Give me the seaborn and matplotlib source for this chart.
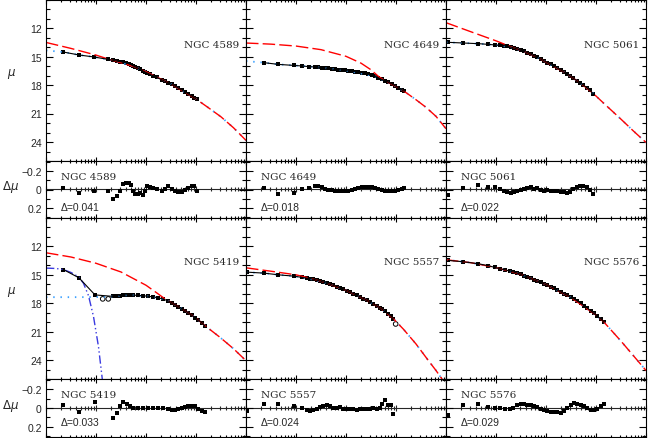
import numpy as np
import pandas as pd
import matplotlib
matplotlib.use("Agg")
import matplotlib.pyplot as plt
import seaborn as sns
from matplotlib.ticker import LogLocator, MultipleLocator, FixedLocator, FixedFormatter, NullFormatter

sns.set_style("ticks")
plt.rcParams.update({
    "font.family": ["Liberation Sans", "DejaVu Sans"],
    "font.size": 7.5,
    "axes.linewidth": 0.8,
    "mathtext.fontset": "dejavusans",
})

# ---- data: log10(R), mu, residual dmu ----
n4589_logr = [-1.653, -1.34, -1.04, -0.753, -0.653, -0.573, -0.52, -0.453, -0.40, -0.347, -0.30,
              -0.253, -0.22, -0.167, -0.12, -0.067, -0.02, 0.013, 0.08, 0.147, 0.213, 0.313, 0.38,
              0.447, 0.513, 0.58, 0.647, 0.713, 0.78, 0.847, 0.913, 0.96, 1.013]
n4589_mu = [14.53, 14.84, 15.05, 15.31, 15.41, 15.50, 15.54, 15.59, 15.65, 15.74, 15.86, 16.00,
            16.08, 16.22, 16.35, 16.49, 16.63, 16.71, 16.88, 17.04, 17.20, 17.44, 17.60, 17.77,
            17.94, 18.12, 18.32, 18.52, 18.72, 18.94, 19.16, 19.33, 19.52]
n4589_dmu = [-0.019, 0.04, 0.018, 0.018, 0.103, 0.066, 0.011, -0.06, -0.071, -0.074, -0.044, 0.018,
             0.048, 0.048, 0.037, 0.055, 0.011, -0.033, -0.022, -0.019, -0.008, 0.018, -0.008,
             -0.041, -0.008, 0.011, 0.022, 0.03, 0.007, -0.019, -0.033, -0.037, 0.018]

n4649_logr = [-1.64, -1.353, -1.04, -0.873, -0.733, -0.62, -0.553, -0.487, -0.42, -0.353, -0.287,
              -0.22, -0.153, -0.087, -0.02, 0.047, 0.113, 0.18, 0.247, 0.313, 0.38, 0.447, 0.513,
              0.58, 0.647, 0.713, 0.78, 0.847, 0.913, 0.98, 1.047, 1.113, 1.167]
n4649_mu = [15.65, 15.83, 15.94, 16.00, 16.07, 16.10, 16.13, 16.16, 16.21, 16.26, 16.31, 16.36,
            16.38, 16.42, 16.46, 16.51, 16.55, 16.60, 16.65, 16.70, 16.78, 16.87, 16.97, 17.09,
            17.25, 17.41, 17.55, 17.71, 17.88, 18.07, 18.28, 18.50, 18.67]
n4649_dmu = [-0.015, 0.048, 0.033, -0.007, -0.019, -0.033, -0.033, -0.022, -0.007, 0.0, 0.007,
             0.011, 0.015, 0.019, 0.019, 0.015, 0.007, -0.004, -0.015, -0.022, -0.026, -0.026,
             -0.022, -0.015, -0.007, 0.004, 0.011, 0.019, 0.015, 0.011, 0.0, -0.007, -0.015]

n5061_logr = [-1.953, -1.653, -1.353, -1.153, -1.02, -0.92, -0.84, -0.773, -0.707, -0.64, -0.573,
              -0.507, -0.44, -0.373, -0.307, -0.24, -0.173, -0.107, -0.04, 0.027, 0.093, 0.16,
              0.227, 0.293, 0.36, 0.427, 0.48, 0.547, 0.613, 0.68, 0.747, 0.813, 0.88, 0.947]
n5061_mu = [13.51, 13.58, 13.65, 13.72, 13.79, 13.83, 13.86, 13.93, 14.00, 14.10, 14.21, 14.32,
            14.46, 14.60, 14.76, 14.93, 15.10, 15.27, 15.45, 15.64, 15.83, 16.02, 16.22, 16.43,
            16.65, 16.87, 17.05, 17.29, 17.53, 17.76, 18.01, 18.27, 18.56, 18.95]
n5061_dmu = [0.059, -0.015, -0.044, -0.026, -0.026, -0.007, 0.011, 0.03, 0.037, 0.022, 0.011,
             0.004, -0.007, -0.015, -0.022, -0.007, -0.019, 0.0, 0.011, 0.007, 0.011, 0.011,
             0.015, 0.022, 0.03, 0.033, 0.022, -0.007, -0.026, -0.033, -0.041, -0.026, 0.0, 0.048]

n5419_logr = [-1.653, -1.34, -1.02, -0.653, -0.573, -0.52, -0.453, -0.387, -0.32, -0.253, -0.153,
              -0.053, 0.047, 0.147, 0.247, 0.347, 0.447, 0.513, 0.58, 0.647, 0.713, 0.78, 0.847,
              0.913, 0.98, 1.047, 1.113, 1.18]
n5419_mu = [14.44, 15.32, 17.12, 17.28, 17.23, 17.19, 17.14, 17.12, 17.12, 17.14, 17.18, 17.21,
            17.27, 17.33, 17.43, 17.56, 17.77, 17.95, 18.14, 18.35, 18.57, 18.78, 19.01, 19.26,
            19.52, 19.77, 20.05, 20.43]
n5419_dmu = [-0.032, 0.039, -0.06, 0.109, 0.053, -0.025, -0.06, -0.042, -0.018, 0.0, 0.004, 0.004,
             0.004, -0.004, -0.004, -0.004, 0.011, 0.021, 0.018, 0.011, -0.004, -0.014, -0.021,
             -0.025, -0.018, 0.011, 0.028, 0.046]
n5419_excl_logr = [-0.866, -0.754]
n5419_excl_mu = [17.54, 17.54]

n5557_logr = [-1.973, -1.64, -1.353, -1.04, -0.873, -0.787, -0.72, -0.653, -0.587, -0.52, -0.453,
              -0.387, -0.32, -0.253, -0.187, -0.12, -0.053, 0.013, 0.08, 0.147, 0.213, 0.28, 0.347,
              0.413, 0.48, 0.547, 0.613, 0.68, 0.713, 0.78, 0.847, 0.9, 0.947]
n5557_mu = [14.72, 14.82, 15.00, 15.14, 15.28, 15.35, 15.40, 15.46, 15.56, 15.65, 15.76, 15.88,
            16.00, 16.12, 16.24, 16.38, 16.52, 16.66, 16.82, 16.98, 17.15, 17.32, 17.50, 17.68,
            17.87, 18.07, 18.28, 18.49, 18.60, 18.86, 19.13, 19.37, 19.68]
n5557_dmu = [0.035, -0.042, -0.042, -0.018, 0.0, 0.018, 0.028, 0.018, 0.007, -0.011, -0.021, -0.028,
             -0.018, 0.0, -0.004, -0.007, 0.007, 0.014, 0.007, 0.014, 0.018, 0.014, 0.014, 0.007,
             0.007, 0.0, 0.014, 0.0, -0.046, -0.081, -0.028, -0.028, 0.06]
n5557_excl_logr = [0.993]
n5557_excl_mu = [20.19]

n5576_logr = [-1.953, -1.653, -1.353, -1.153, -1.02, -0.92, -0.82, -0.72, -0.653, -0.573, -0.507,
              -0.44, -0.373, -0.307, -0.24, -0.173, -0.107, -0.04, 0.027, 0.093, 0.16, 0.227, 0.293,
              0.36, 0.427, 0.493, 0.56, 0.627, 0.693, 0.76, 0.827, 0.893, 0.96, 1.027, 1.093, 1.16]
n5576_mu = [13.48, 13.62, 13.83, 14.04, 14.22, 14.36, 14.47, 14.61, 14.70, 14.83, 14.95, 15.10,
            15.24, 15.38, 15.52, 15.66, 15.80, 15.94, 16.11, 16.27, 16.43, 16.62, 16.81, 16.99,
            17.18, 17.37, 17.55, 17.77, 18.01, 18.24, 18.51, 18.80, 19.08, 19.36, 19.65, 20.01]
n5576_dmu = [0.07, -0.028, -0.039, -0.007, 0.0, 0.004, 0.007, 0.007, 0.0, -0.028, -0.042, -0.039,
             -0.028, -0.035, -0.021, -0.007, 0.007, 0.021, 0.035, 0.042, 0.046, 0.046, 0.049, 0.032,
             0.0, -0.035, -0.056, -0.042, -0.032, -0.018, 0.0, 0.021, 0.025, 0.007, -0.018, -0.042]

# ---- model curves (vertices) ----
n4589_sersic = ([-2, -1.5, -1.0, -0.75, -0.5, -0.25, 0.0, 0.5, 1.0, 1.25, 1.5, 1.75, 2.0],
                [13.52, 14.15, 14.85, 15.28, 15.66, 16.05, 16.6, 17.9, 19.47, 20.4, 21.35, 22.5, 23.83])
n4589_core = ([-2, -1.653, -1.34, -1.04, -0.753, -0.5, -0.25, 0.0, 0.5, 1.0, 1.25, 1.5, 1.75, 2.0],
              [14.36, 14.53, 14.84, 15.05, 15.31, 15.66, 16.05, 16.6, 17.9, 19.47, 20.4, 21.35, 22.5, 23.83])
n4649_sersic = ([-2, -1.5, -1.0, -0.5, 0.0, 0.3, 0.5, 0.65, 0.8, 1.0, 1.2, 1.4, 1.6, 1.8, 2.0],
                [13.58, 13.7, 13.9, 14.28, 14.98, 15.7, 16.4, 17.1, 17.62, 18.15, 18.8, 19.55, 20.35,
                 21.3, 22.6])
n4649_core = ([-2, -1.64, -1.353, -1.04, -0.62, -0.02, 0.58, 0.8, 1.0, 1.2, 1.4, 1.6, 1.8, 2.0],
              [15.48, 15.65, 15.83, 15.94, 16.10, 16.46, 17.09, 17.62, 18.15, 18.8, 19.55, 20.35, 21.3, 22.6])
n5061_sersic = ([-2, -1.5, -1.0, -0.7, -0.44, -0.107, 0.36, 0.68, 0.947, 1.15, 1.5, 1.75, 2.0],
                [11.44, 12.4, 13.35, 13.98, 14.46, 15.27, 16.65, 17.76, 18.9, 19.9, 21.6, 22.85, 24.05])
n5061_core = ([-2, -1.953, -1.353, -1.02, -0.707, -0.44, -0.107, 0.36, 0.68, 0.947, 1.15, 1.5, 1.75, 2.0],
              [13.5, 13.51, 13.65, 13.79, 14.0, 14.46, 15.27, 16.65, 17.76, 18.9, 19.9, 21.6, 22.85, 24.05])
n5419_sersic = ([-2, -1.5, -1.0, -0.5, 0.0, 0.2, 0.4, 0.6, 0.8, 1.0, 1.18, 1.48, 1.75, 2.0],
                [12.67, 13.12, 13.78, 14.7, 16.1, 16.85, 17.62, 18.2, 18.85, 19.55, 20.37, 21.6, 22.8, 24.07])
n5419_core = ([-2, -1.5, -1.0, -0.75, -0.62, -0.32, 0.08, 0.4, 0.6, 0.8, 1.0, 1.18, 1.48, 1.75, 2.0],
              [17.36, 17.36, 17.35, 17.32, 17.26, 17.12, 17.29, 17.62, 18.2, 18.85, 19.55, 20.37, 21.6,
               22.8, 24.07])
n5419_nucleus = ([-2, -1.8, -1.654, -1.5, -1.34, -1.25, -1.15, -1.05, -0.95, -0.87],
                 [14.29, 14.33, 14.44, 14.75, 15.24, 15.9, 17.2, 19.4, 22.6, 26.2])
n5557_sersic = ([-2, -1.5, -1.0, -0.7, -0.4, 0.0, 0.4, 0.7, 0.95, 1.15, 1.4, 1.65, 1.8, 2.0],
                [14.26, 14.62, 15.0, 15.38, 15.85, 16.63, 17.64, 18.55, 19.65, 20.75, 22.3, 24.07, 25.1, 26.6])
n5557_core = ([-2, -1.64, -1.353, -1.04, -0.787, -0.4, 0.0, 0.4, 0.7, 0.95, 1.15, 1.4, 1.65, 1.8, 2.0],
              [14.72, 14.82, 15.0, 15.14, 15.35, 15.85, 16.63, 17.64, 18.55, 19.65, 20.75, 22.3, 24.07,
               25.1, 26.6])
n5576_sersic = ([-2, -1.5, -1.0, -0.5, 0.0, 0.5, 1.0, 1.16, 1.5, 2.0],
                [13.41, 13.72, 14.24, 14.96, 16.03, 17.4, 19.25, 20.0, 22.0, 25.1])
n5576_core = n5576_sersic

names = ["NGC 4589", "NGC 4649", "NGC 5061", "NGC 5419", "NGC 5557", "NGC 5576"]
deltas = ["0.041", "0.018", "0.022", "0.033", "0.024", "0.029"]

panels = [
    (n4589_logr, n4589_mu, n4589_dmu, n4589_sersic, n4589_core, None, None),
    (n4649_logr, n4649_mu, n4649_dmu, n4649_sersic, n4649_core, None, None),
    (n5061_logr, n5061_mu, n5061_dmu, n5061_sersic, n5061_core, None, None),
    (n5419_logr, n5419_mu, n5419_dmu, n5419_sersic, n5419_core, n5419_nucleus,
     (n5419_excl_logr, n5419_excl_mu)),
    (n5557_logr, n5557_mu, n5557_dmu, n5557_sersic, n5557_core, None,
     (n5557_excl_logr, n5557_excl_mu)),
    (n5576_logr, n5576_mu, n5576_dmu, n5576_sersic, n5576_core, None, None),
]

RED = "#ff0000"
LBLUE = "#3aa0ff"
DBLUE = "#3a3ae0"

W, H = 648, 439
fig = plt.figure(figsize=(W / 100, H / 100), dpi=100)
col_left = [46, 246, 446]
rows = [(0.5, 162, 219), (219, 380, 438)]  # main top, main bottom/resid top, resid bottom


def style_x(ax):
    ax.set_xscale("log")
    ax.set_xlim(0.01, 100)
    ax.xaxis.set_major_locator(LogLocator(base=10, numticks=20))
    ax.xaxis.set_minor_locator(LogLocator(base=10, subs=np.arange(2, 10), numticks=20))
    ax.xaxis.set_major_formatter(NullFormatter())
    ax.xaxis.set_minor_formatter(NullFormatter())


def curve(ax, verts, **kw):
    d = pd.DataFrame({"R": 10 ** np.array(verts[0], float), "mu": verts[1]})
    sns.lineplot(data=d, x="R", y="mu", ax=ax, sort=False, estimator=None, **kw)


for i, (logr, mu, dmu, sersic, core, nucleus, excl) in enumerate(panels):
    r, c = divmod(i, 3)
    top, mid, bot = rows[r]
    x0 = col_left[c]
    ax = fig.add_axes([x0 / W, (H - mid) / H, 200 / W, (mid - top) / H])
    rax = fig.add_axes([x0 / W, (H - bot) / H, 200 / W, (bot - mid) / H])

    for a in (ax, rax):
        style_x(a)
        a.tick_params(which="both", direction="in", top=True, right=True, width=0.8, color="k")
        a.tick_params(axis="x", which="major", length=2.6)
        a.tick_params(axis="x", which="minor", length=1.5)
        a.tick_params(axis="y", which="major", length=5.0)
        a.tick_params(axis="y", which="minor", length=2.8)
        for s in a.spines.values():
            s.set_linewidth(0.8)
            s.set_color("k")

    df = pd.DataFrame({"R": 10 ** np.array(logr), "mu": mu, "dmu": dmu})

    curve(ax, core, color=LBLUE, lw=1.3, linestyle=(0, (0.8, 3.2)))
    curve(ax, sersic, color=RED, lw=1.0, linestyle=(0, (9, 3)))
    if nucleus is not None:
        curve(ax, nucleus, color=DBLUE, lw=1.0, linestyle=(0, (6, 2, 1, 2, 1, 2)))
    sns.lineplot(data=df, x="R", y="mu", ax=ax, color="k", lw=0.8, sort=False, estimator=None)
    sns.scatterplot(data=df, x="R", y="mu", ax=ax, color="k", marker="s", s=6, linewidth=0)
    if excl is not None:
        ex = pd.DataFrame({"R": 10 ** np.array(excl[0]), "mu": excl[1]})
        sns.scatterplot(data=ex, x="R", y="mu", ax=ax, marker="o", s=11,
                        facecolor="none", edgecolor="k", linewidth=0.7)

    ax.set_ylim(26, 9)
    ax.yaxis.set_major_locator(FixedLocator([12, 15, 18, 21, 24]))
    ax.yaxis.set_minor_locator(MultipleLocator(1))
    ax.set_xlabel("")
    ax.set_ylabel("")
    ax.text(0.965, 0.72 if r == 0 else 0.727, names[i], transform=ax.transAxes, ha="right",
            va="center", fontsize=7.5, family="DejaVu Serif")

    sns.scatterplot(data=df, x="R", y="dmu", ax=rax, color="k", marker="s", s=6, linewidth=0)
    rax.set_ylim(0.31, -0.31)
    rax.yaxis.set_major_locator(FixedLocator([-0.2, 0.0, 0.2]))
    rax.yaxis.set_minor_locator(MultipleLocator(0.1))
    rax.set_xlabel("")
    rax.set_ylabel("")
    zero = rax.secondary_xaxis(0.5)
    zero.xaxis.set_major_locator(LogLocator(base=10, numticks=20))
    zero.xaxis.set_minor_locator(LogLocator(base=10, subs=np.arange(2, 10), numticks=20))
    zero.xaxis.set_major_formatter(NullFormatter())
    zero.xaxis.set_minor_formatter(NullFormatter())
    zero.tick_params(which="major", direction="inout", length=5, width=0.8)
    zero.tick_params(which="minor", direction="inout", length=3, width=0.8)
    for s in zero.spines.values():
        s.set_linewidth(0.8)
    rax.text(0.075, 0.72 if r == 0 else 0.74, names[i], transform=rax.transAxes, ha="left",
             va="center", fontsize=7.5, family="DejaVu Serif")
    rax.text(0.075, 0.19 if r == 0 else 0.25, "\u0394=" + deltas[i], transform=rax.transAxes,
             ha="left", va="center", fontsize=7.5)

    if c == 0:
        ax.yaxis.set_major_formatter(FixedFormatter(["12", "15", "18", "21", "24"]))
        rax.yaxis.set_major_formatter(FixedFormatter(["\u22120.2", "0", "0.2"]))
        ax.tick_params(axis="y", labelsize=7.5, pad=3)
        rax.tick_params(axis="y", labelsize=7.5, pad=3)
        ax.set_ylabel(r"$\mu$", rotation=0, fontsize=8.5)
        ax.yaxis.set_label_coords(-0.17, 0.5)
        rax.set_ylabel(r"$\Delta\mu$", rotation=0, fontsize=8.5)
        rax.yaxis.set_label_coords(-0.18, 0.42)
    else:
        ax.yaxis.set_major_formatter(NullFormatter())
        rax.yaxis.set_major_formatter(NullFormatter())

fig.savefig("out.png", dpi=100)
